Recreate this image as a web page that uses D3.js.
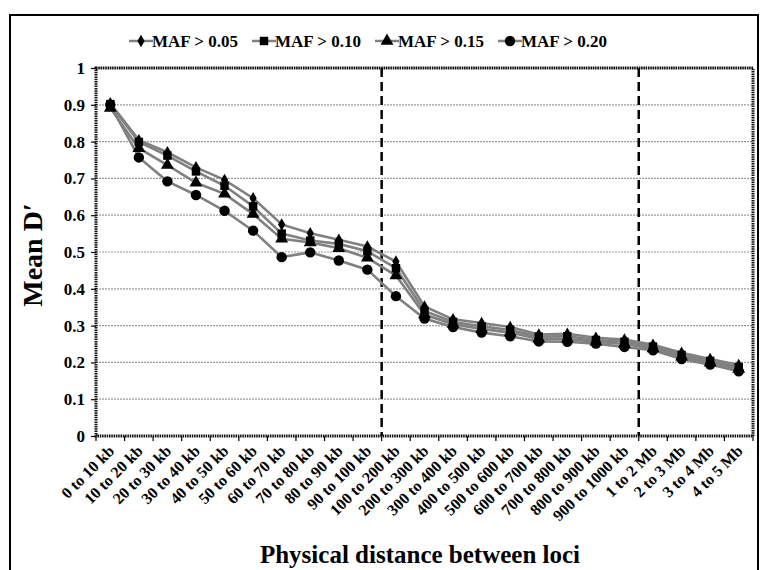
<!DOCTYPE html>
<html>
<head>
<meta charset="utf-8">
<script src="https://cdn.jsdelivr.net/npm/d3@7"></script>
<style>
  body { margin: 0; background: #fff; }
  text { font-family: "Liberation Serif", "Times New Roman", serif; font-weight: bold; }
</style>
</head>
<body>
<svg id="chart1"></svg>
<script>
let w = 767;
let h = 570;

// categories along the x axis
let categories = ["0 to 10 kb", "10 to 20 kb", "20 to 30 kb", "30 to 40 kb", "40 to 50 kb",
  "50 to 60 kb", "60 to 70 kb", "70 to 80 kb", "80 to 90 kb", "90 to 100 kb",
  "100 to 200 kb", "200 to 300 kb", "300 to 400 kb", "400 to 500 kb", "500 to 600 kb",
  "600 to 700 kb", "700 to 800 kb", "800 to 900 kb", "900 to 1000 kb",
  "1 to 2 Mb", "2 to 3 Mb", "3 to 4 Mb", "4 to 5 Mb"];

let seriesNames = ["MAF > 0.05", "MAF > 0.10", "MAF > 0.15", "MAF > 0.20"];
let seriesSymbols = ["diamond", "square", "triangle", "circle"];

let maf05 = [0.904, 0.804, 0.771, 0.730, 0.696, 0.646, 0.575, 0.551, 0.533, 0.515, 0.474,
  0.352, 0.317, 0.307, 0.296, 0.276, 0.278, 0.267, 0.262, 0.248, 0.226, 0.209, 0.193];
let maf10 = [0.902, 0.799, 0.762, 0.719, 0.680, 0.624, 0.550, 0.531, 0.522, 0.502, 0.456,
  0.340, 0.310, 0.298, 0.288, 0.270, 0.271, 0.261, 0.256, 0.243, 0.220, 0.204, 0.187];
let maf15 = [0.891, 0.782, 0.736, 0.688, 0.658, 0.603, 0.536, 0.526, 0.510, 0.484, 0.436,
  0.330, 0.304, 0.291, 0.281, 0.264, 0.264, 0.256, 0.250, 0.238, 0.215, 0.199, 0.182];
let maf20 = [0.900, 0.757, 0.692, 0.655, 0.612, 0.558, 0.486, 0.499, 0.477, 0.452, 0.380,
  0.319, 0.296, 0.281, 0.271, 0.257, 0.256, 0.251, 0.242, 0.233, 0.209, 0.194, 0.176];

let yTicks = [0, 0.1, 0.2, 0.3, 0.4, 0.5, 0.6, 0.7, 0.8, 0.9, 1];
let dividers = ["100 to 200 kb", "1 to 2 Mb"];

let allSeries = [maf05, maf10, maf15, maf20];

let svg = d3.select('#chart1')
  .attr('width', w)
  .attr('height', h);

// outer frame
svg.append('rect')
  .attr('x', 10).attr('y', 15)
  .attr('width', 748).attr('height', 580)
  .attr('fill', 'none')
  .attr('stroke', '#000')
  .attr('stroke-width', 2);

let pLeft = 96, pRight = 753, pTop = 68, pBottom = 436;

let xScale = d3.scaleBand()
  .domain(categories)
  .range([pLeft, pRight]);

let yScale = d3.scaleLinear()
  .domain([0, 1])
  .range([pBottom, pTop]);

// gridlines
svg.append('g')
  .selectAll('line')
  .data(yTicks.slice(1))
  .enter()
  .append('line')
  .attr('x1', pLeft).attr('x2', pRight)
  .attr('y1', d => yScale(d)).attr('y2', d => yScale(d))
  .attr('stroke', '#9a9a9a')
  .attr('stroke-width', 1.2)
  .attr('stroke-dasharray', '2,1');

// y axis
let yAxis = d3.axisLeft(yScale)
  .tickValues(yTicks)
  .tickSize(5)
  .tickFormat(d => d === 0 || d === 1 ? d3.format('d')(d) : d3.format('.1f')(d));

let yAxisGroup = svg.append('g')
  .attr('transform', `translate(${pLeft},0)`)
  .call(yAxis);
yAxisGroup.select('.domain').remove();
yAxisGroup.selectAll('line').attr('stroke', '#000').attr('stroke-width', 1.2);
yAxisGroup.selectAll('text')
  .attr('x', -11)
  .style('font-size', '17px')
  .style('font-family', '"Liberation Serif", serif')
  .style('font-weight', 'bold')
  .attr('fill', '#000');

// x axis ticks at band boundaries
let boundaries = categories.map(c => xScale(c)).concat([pRight]);
svg.append('g')
  .selectAll('line')
  .data(boundaries)
  .enter()
  .append('line')
  .attr('x1', d => d).attr('x2', d => d)
  .attr('y1', pBottom).attr('y2', pBottom + 5)
  .attr('stroke', '#000')
  .attr('stroke-width', 1.2);

// x tick labels
svg.append('g')
  .selectAll('text')
  .data(categories)
  .enter()
  .append('text')
  .attr('transform', d => `translate(${xScale(d) + xScale.bandwidth() / 2 + 1},${pBottom + 12}) rotate(-45)`)
  .attr('text-anchor', 'end')
  .attr('dy', '0.35em')
  .style('font-size', '16px')
  .text(d => d);

// plot frame (hatched look)
svg.append('rect')
  .attr('x', pLeft).attr('y', pTop)
  .attr('width', pRight - pLeft).attr('height', pBottom - pTop)
  .attr('fill', 'none')
  .attr('stroke', '#111')
  .attr('stroke-width', 3)
  .attr('stroke-dasharray', '1.5,0.8');

// dashed dividers
svg.append('g')
  .selectAll('line')
  .data(dividers)
  .enter()
  .append('line')
  .attr('x1', d => xScale(d)).attr('x2', d => xScale(d))
  .attr('y1', pTop).attr('y2', pBottom)
  .attr('stroke', '#000')
  .attr('stroke-width', 2.5)
  .attr('stroke-dasharray', '9,5');

// lines
let lineFunction = d3.line()
  .x((d, i) => xScale(categories[i]) + xScale.bandwidth() / 2)
  .y(d => yScale(d));

let symbolMap = {
  diamond: d3.symbol().type(d3.symbolDiamond).size(45),
  square: d3.symbol().type(d3.symbolSquare).size(72),
  triangle: d3.symbol().type(d3.symbolTriangle).size(72),
  circle: d3.symbol().type(d3.symbolCircle).size(85)
};

allSeries.forEach((s, k) => {
  svg.append('path')
    .attr('d', lineFunction(s))
    .attr('fill', 'none')
    .attr('stroke', '#808080')
    .attr('stroke-width', 2.6);
});

allSeries.forEach((s, k) => {
  svg.append('g')
    .selectAll('path')
    .data(s)
    .enter()
    .append('path')
    .attr('d', symbolMap[seriesSymbols[k]]())
    .attr('transform', (d, i) => `translate(${xScale(categories[i]) + xScale.bandwidth() / 2},${yScale(d)})`)
    .attr('fill', '#000');
});

// legend
let legendX = [141, 264, 387, 510];
let legend = svg.append('g');
seriesNames.forEach((name, k) => {
  let g = legend.append('g').attr('transform', `translate(${legendX[k]},41)`);
  g.append('line')
    .attr('x1', -12).attr('x2', 12)
    .attr('y1', 0).attr('y2', 0)
    .attr('stroke', '#808080')
    .attr('stroke-width', 2.5);
  g.append('path')
    .attr('d', symbolMap[seriesSymbols[k]]())
    .attr('fill', '#000');
  g.append('text')
    .attr('x', 11)
    .attr('y', 6)
    .style('font-size', '17px')
    .text(name);
});

// axis titles
svg.append('text')
  .attr('transform', `translate(42,${(pTop + pBottom) / 2 + 3}) rotate(-90)`)
  .attr('text-anchor', 'middle')
  .style('font-size', '28px')
  .text('Mean D\u2032');

svg.append('text')
  .attr('x', 420)
  .attr('y', 563)
  .attr('text-anchor', 'middle')
  .style('font-size', '25px')
  .text('Physical distance between loci');
</script>
</body>
</html>
